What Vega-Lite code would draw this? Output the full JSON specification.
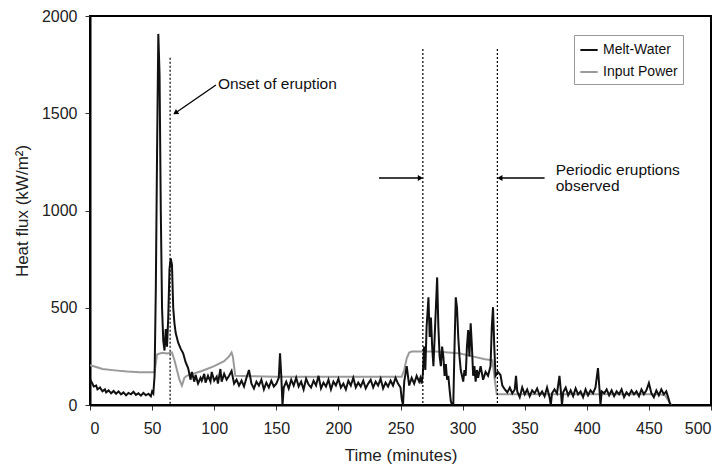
{
  "$schema": "https://vega.github.io/schema/vega-lite/v6.json",
  "width": 621,
  "height": 389,
  "autosize": {"type": "none"},
  "padding": {"left": 90, "top": 16, "right": 15, "bottom": 68},
  "background": "white",
  "config": {
    "font": "Liberation Sans",
    "view": {"stroke": "black", "strokeWidth": 2},
    "axis": {
      "grid": false, "domainColor": "black", "domainWidth": 2, "tickColor": "#333", "tickSize": 5,
      "labelFontSize": 16, "labelColor": "#222", "titleFontSize": 17, "titleFontWeight": "normal", "titleColor": "#222",
      "labelFont": "Liberation Sans", "titleFont": "Liberation Sans"
    }
  },
  "datasets": {
    "melt": [
      {"t":0,"v":135},{"t":1,"v":120},{"t":2,"v":110},{"t":3,"v":95},{"t":5,"v":100},{"t":6,"v":80},{"t":8,"v":90},{"t":10,"v":70},{"t":12,"v":80},{"t":13,"v":65},{"t":15,"v":75},{"t":17,"v":60},{"t":19,"v":72},{"t":21,"v":58},{"t":23,"v":70},{"t":25,"v":55},{"t":27,"v":65},{"t":29,"v":50},{"t":31,"v":62},{"t":33,"v":55},{"t":35,"v":68},{"t":37,"v":52},{"t":39,"v":60},{"t":41,"v":48},{"t":43,"v":62},{"t":45,"v":50},{"t":47,"v":58},{"t":49,"v":45},{"t":50,"v":70},{"t":51,"v":60},
      {"t":52,"v":150},{"t":53,"v":600},{"t":54,"v":1300},{"t":55,"v":1908},{"t":56,"v":1700},{"t":57,"v":1000},{"t":58,"v":500},{"t":59,"v":330},{"t":60,"v":280},{"t":61,"v":390},{"t":62,"v":300},{"t":63,"v":450},{"t":64,"v":700},{"t":65,"v":754},{"t":66,"v":720},{"t":67,"v":500},{"t":68,"v":420},{"t":69,"v":370},{"t":71,"v":320},{"t":73,"v":290},{"t":75,"v":266},{"t":77,"v":220},{"t":79,"v":190},
      {"t":81,"v":130},{"t":82,"v":170},{"t":84,"v":120},{"t":85,"v":155},{"t":87,"v":110},{"t":89,"v":140},{"t":90,"v":125},{"t":92,"v":160},{"t":93,"v":115},{"t":95,"v":150},{"t":97,"v":120},{"t":98,"v":170},{"t":100,"v":125},{"t":102,"v":145},{"t":103,"v":110},{"t":105,"v":185},{"t":106,"v":120},{"t":108,"v":160},{"t":110,"v":130},{"t":112,"v":150},{"t":114,"v":175},{"t":116,"v":110},{"t":118,"v":130},{"t":120,"v":100},{"t":122,"v":125},{"t":124,"v":95},{"t":126,"v":140},{"t":128,"v":180},{"t":130,"v":110},{"t":132,"v":85},{"t":134,"v":120},{"t":136,"v":100},{"t":138,"v":130},{"t":140,"v":80},{"t":142,"v":115},{"t":144,"v":90},{"t":146,"v":125},{"t":148,"v":95},{"t":150,"v":110},{"t":152,"v":140},{"t":153,"v":266},{"t":154,"v":150},{"t":155,"v":0},{"t":156,"v":90},
      {"t":158,"v":120},{"t":160,"v":85},{"t":162,"v":130},{"t":164,"v":100},{"t":166,"v":140},{"t":168,"v":95},{"t":170,"v":120},{"t":172,"v":80},{"t":174,"v":135},{"t":176,"v":105},{"t":178,"v":90},{"t":180,"v":125},{"t":182,"v":100},{"t":184,"v":150},{"t":186,"v":85},{"t":188,"v":115},{"t":190,"v":95},{"t":192,"v":130},{"t":194,"v":80},{"t":196,"v":120},{"t":198,"v":100},{"t":200,"v":135},{"t":202,"v":90},{"t":204,"v":110},{"t":206,"v":80},{"t":208,"v":125},{"t":210,"v":100},{"t":212,"v":140},{"t":214,"v":90},{"t":216,"v":115},{"t":218,"v":95},{"t":220,"v":125},{"t":222,"v":85},{"t":224,"v":110},{"t":226,"v":130},{"t":228,"v":90},{"t":230,"v":120},{"t":232,"v":100},{"t":234,"v":135},{"t":236,"v":85},{"t":238,"v":115},{"t":240,"v":95},{"t":242,"v":125},{"t":244,"v":100},{"t":246,"v":140},{"t":248,"v":110},{"t":250,"v":90},{"t":251,"v":30},{"t":252,"v":0},{"t":253,"v":120},{"t":255,"v":200},{"t":256,"v":150},{"t":257,"v":100},{"t":259,"v":140},{"t":261,"v":110},{"t":263,"v":150},{"t":265,"v":120},{"t":266,"v":140},{"t":267,"v":110},
      {"t":268,"v":160},{"t":269,"v":300},{"t":270,"v":180},{"t":271,"v":400},{"t":272.5,"v":554},{"t":273.5,"v":350},{"t":274.5,"v":450},{"t":275.5,"v":300},{"t":276.5,"v":200},{"t":277.5,"v":350},{"t":278.5,"v":500},{"t":279.5,"v":656},{"t":280.5,"v":400},{"t":281.5,"v":250},{"t":282.5,"v":200},{"t":283.5,"v":300},{"t":284.5,"v":250},{"t":285.5,"v":150},{"t":286.5,"v":210},{"t":287.5,"v":130},{"t":288.5,"v":150},{"t":289.5,"v":80},{"t":290.5,"v":20},{"t":291.5,"v":0},{"t":292.5,"v":0},{"t":293.5,"v":300},{"t":294.5,"v":554},{"t":295.5,"v":500},{"t":296.5,"v":350},{"t":297.5,"v":250},{"t":298.5,"v":180},{"t":299.5,"v":150},{"t":300.5,"v":120},{"t":301.5,"v":180},{"t":302.5,"v":150},{"t":303.5,"v":300},{"t":304.5,"v":385},{"t":305.5,"v":250},{"t":306.5,"v":420},{"t":307.5,"v":300},{"t":308.5,"v":150},{"t":309.5,"v":200},{"t":310.5,"v":120},{"t":311.5,"v":180},{"t":312.5,"v":140},{"t":314.5,"v":200},{"t":316.5,"v":130},{"t":318.5,"v":170},{"t":320.5,"v":150},{"t":322.5,"v":200},{"t":323.5,"v":400},{"t":324.5,"v":503},{"t":325.5,"v":300},{"t":326.5,"v":150},{"t":328.5,"v":170},{"t":330.5,"v":154},
      {"t":332,"v":100},{"t":334,"v":80},{"t":336,"v":65},{"t":338,"v":90},{"t":340,"v":60},{"t":342,"v":80},{"t":343,"v":150},{"t":344,"v":70},{"t":346,"v":40},{"t":348,"v":90},{"t":350,"v":55},{"t":352,"v":80},{"t":354,"v":45},{"t":356,"v":75},{"t":358,"v":60},{"t":360,"v":85},{"t":362,"v":50},{"t":364,"v":70},{"t":366,"v":45},{"t":368,"v":90},{"t":370,"v":40},{"t":371,"v":0},{"t":372,"v":60},{"t":374,"v":80},{"t":376,"v":60},{"t":378,"v":150},{"t":379,"v":80},{"t":380,"v":0},{"t":381,"v":65},{"t":383,"v":90},{"t":385,"v":50},{"t":387,"v":75},{"t":389,"v":45},{"t":391,"v":85},{"t":393,"v":55},{"t":395,"v":70},{"t":397,"v":40},{"t":399,"v":80},{"t":401,"v":50},{"t":403,"v":75},{"t":405,"v":60},{"t":407,"v":90},{"t":409,"v":190},{"t":410,"v":100},{"t":411,"v":0},{"t":412,"v":70},{"t":414,"v":60},{"t":416,"v":80},{"t":418,"v":50},{"t":420,"v":75},{"t":422,"v":45},{"t":424,"v":70},{"t":426,"v":55},{"t":428,"v":80},{"t":430,"v":40},{"t":432,"v":65},{"t":434,"v":50},{"t":436,"v":75},{"t":438,"v":55},{"t":440,"v":70},{"t":442,"v":45},{"t":444,"v":80},{"t":446,"v":55},{"t":448,"v":75},{"t":450,"v":113},{"t":452,"v":60},{"t":454,"v":40},{"t":456,"v":75},{"t":458,"v":50},{"t":460,"v":80},{"t":462,"v":55},{"t":464,"v":70},{"t":466,"v":30},{"t":467,"v":5},{"t":468,"v":0}
    ],
    "power": [
      {"t":0,"v":205},{"t":5,"v":195},{"t":10,"v":185},{"t":20,"v":178},{"t":30,"v":172},{"t":40,"v":168},{"t":52,"v":168},{"t":54,"v":260},{"t":58,"v":268},{"t":62,"v":265},{"t":66,"v":270},{"t":68,"v":230},{"t":70,"v":180},{"t":72,"v":130},{"t":74,"v":100},{"t":76,"v":140},{"t":78,"v":150},{"t":80,"v":155},{"t":90,"v":175},{"t":100,"v":200},{"t":108,"v":225},{"t":112,"v":250},{"t":114,"v":270},{"t":115,"v":250},{"t":117,"v":150},{"t":130,"v":148},{"t":150,"v":145},{"t":200,"v":145},{"t":240,"v":145},{"t":251,"v":145},{"t":253,"v":180},{"t":255,"v":240},{"t":257,"v":270},{"t":259,"v":275},{"t":279,"v":275},{"t":298,"v":265},{"t":308,"v":250},{"t":318,"v":235},{"t":324,"v":230},{"t":326.5,"v":100},{"t":327.5,"v":55},{"t":340,"v":55},{"t":400,"v":55},{"t":458,"v":55},{"t":463,"v":50},{"t":468,"v":0}
    ],
    "dashes": [{"t":64.5,"top":1785,"bottom":0},{"t":268,"top":1830,"bottom":0},{"t":328,"top":1830,"bottom":0}],
    "arrows": [{"t":101.4,"v":1645,"t2":69,"v2":1503},{"t":232.7,"v":1167,"t2":266,"v2":1167},{"t":366,"v":1167,"t2":330,"v2":1167}],
    "heads": [{"t":68.8,"v":1502,"ang":236},{"t":266,"v":1167,"ang":90},{"t":330,"v":1167,"ang":270}],
    "labels": [{"t":103,"v":1650,"txt":"Onset of eruption"},{"t":375,"v":1208,"txt":"Periodic eruptions"},{"t":375,"v":1126,"txt":"observed"}]
  },
  "layer": [
    {
      "data": {"name": "power"},
      "mark": {"type": "line", "strokeWidth": 2, "clip": true},
      "encoding": {
        "x": {"field": "t", "type": "quantitative", "scale": {"domain": [0, 500], "nice": false}, "axis": {"values": [0,50,100,150,200,250,300,350,400,450,500], "title": "Time (minutes)", "titlePadding": 11, "labelPadding": 10}},
        "y": {"field": "v", "type": "quantitative", "scale": {"domain": [0, 2000], "nice": false}, "axis": {"values": [0,500,1000,1500,2000], "format": "d", "title": "Heat flux (kW/m²)", "titlePadding": 10, "labelPadding": 8}},
        "color": {"datum": "Input Power", "type": "nominal", "scale": {"domain": ["Melt-Water", "Input Power"], "range": ["#111111", "#9a9a9a"]},
          "legend": {"title": null, "orient": "none", "legendX": 484, "legendY": 19, "symbolType": "stroke", "symbolSize": 300, "symbolStrokeWidth": 2, "labelFontSize": 14, "labelColor": "#111", "labelFont": "Liberation Sans", "fillColor": "white", "strokeColor": "#999", "padding": 5, "rowPadding": 5, "labelOffset": 4}}
      }
    },
    {
      "data": {"name": "melt"},
      "mark": {"type": "line", "strokeWidth": 2, "clip": true},
      "encoding": {
        "x": {"field": "t", "type": "quantitative"},
        "y": {"field": "v", "type": "quantitative"},
        "color": {"datum": "Melt-Water", "type": "nominal"}
      }
    },
    {
      "data": {"name": "dashes"},
      "mark": {"type": "rule", "color": "black", "strokeWidth": 1.2, "strokeDash": [2, 2]},
      "encoding": {
        "x": {"field": "t", "type": "quantitative"},
        "y": {"field": "top", "type": "quantitative"},
        "y2": {"field": "bottom"}
      }
    },
    {
      "data": {"name": "arrows"},
      "mark": {"type": "rule", "color": "black", "strokeWidth": 1.3},
      "encoding": {
        "x": {"field": "t", "type": "quantitative"},
        "y": {"field": "v", "type": "quantitative"},
        "x2": {"field": "t2"},
        "y2": {"field": "v2"}
      }
    },
    {
      "data": {"name": "heads"},
      "mark": {"type": "point", "shape": "triangle-up", "filled": true, "color": "black", "size": 35, "opacity": 1},
      "encoding": {
        "x": {"field": "t", "type": "quantitative"},
        "y": {"field": "v", "type": "quantitative"},
        "angle": {"field": "ang", "type": "quantitative", "scale": null}
      }
    },
    {
      "data": {"name": "labels"},
      "mark": {"type": "text", "align": "left", "baseline": "middle", "fontSize": 15.5, "font": "Liberation Sans", "color": "#111"},
      "encoding": {
        "x": {"field": "t", "type": "quantitative"},
        "y": {"field": "v", "type": "quantitative"},
        "text": {"field": "txt"}
      }
    }
  ]
}
